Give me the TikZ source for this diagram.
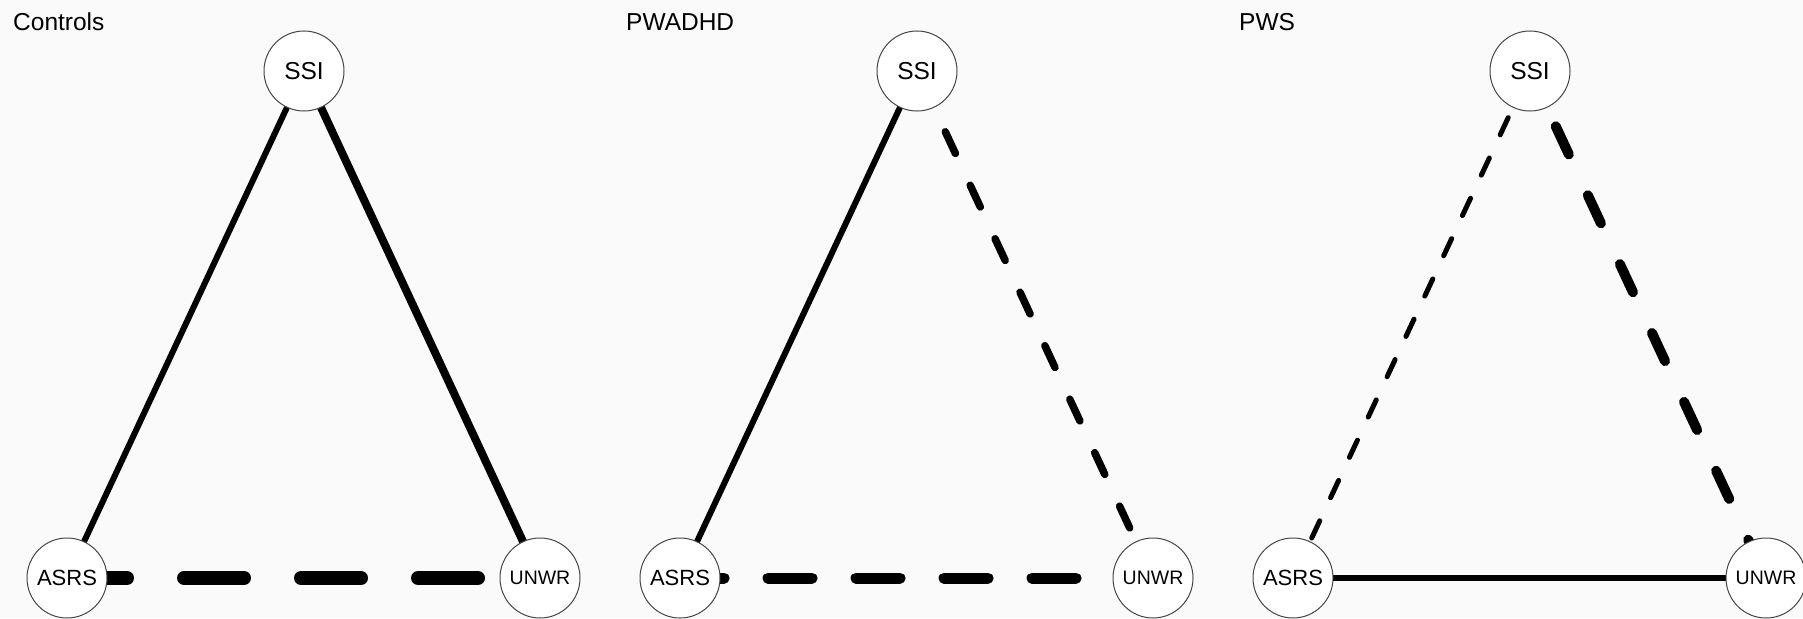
\documentclass[tikz,border=0pt]{standalone}
\usepackage{fontspec}
\setmainfont{Liberation Sans}
\pgfdeclarelayer{bgl}
\pgfdeclarelayer{edges}
\pgfsetlayers{bgl,edges,main}
\definecolor{bgc}{RGB}{250,250,250}
\definecolor{ringc}{RGB}{70,70,70}
\begin{document}
\begin{tikzpicture}[x=1pt,y=-1pt,
  vert/.style={circle, draw=ringc, line width=1pt, fill=white, minimum size=80pt, inner sep=0pt},
  ttl/.style={anchor=base west, inner sep=0pt, font=\fontsize{24.5}{30}\selectfont},
  fssi/.style={font=\fontsize{24.5}{29}\selectfont},
  fasrs/.style={font=\fontsize{22}{26}\selectfont},
  funwr/.style={font=\fontsize{19.5}{23}\selectfont},
  edge/.style={line cap=round, draw=black}]
\begin{pgfonlayer}{bgl}
\fill[bgc] (0,0) rectangle (1803,618);
\end{pgfonlayer}
\useasboundingbox (0,0) rectangle (1803,618);

% Controls
\node[ttl] (t1) at (13,30.5) {Controls};
\node[vert,fssi] (c-ssi) at (304,71) {SSI};
\node[vert,fasrs] (c-asrs) at (67,578) {ASRS};
\node[vert,funwr] (c-unwr) at (540,578) {UNWR};

% PWADHD
\node[ttl] (t2) at (626,30.5) {PWADHD};
\node[vert,fssi] (a-ssi) at (917,71) {SSI};
\node[vert,fasrs] (a-asrs) at (680,578) {ASRS};
\node[vert,funwr] (a-unwr) at (1153,578) {UNWR};

% PWS
\node[ttl] (t3) at (1239,30.5) {PWS};
\node[vert,fssi] (p-ssi) at (1530,71) {SSI};
\node[vert,fasrs] (p-asrs) at (1293,578) {ASRS};
\node[vert,funwr] (p-unwr) at (1766,578) {UNWR};

\begin{pgfonlayer}{edges}
% Controls
\draw[edge, line width=6pt] (c-ssi.center) -- (c-asrs.center);
\draw[edge, line width=8pt] (c-ssi.center) -- (c-unwr.center);
\draw[edge, line width=14pt, dash pattern=on 60pt off 57pt] (c-asrs.center) -- (c-unwr.center);
% PWADHD
\draw[edge, line width=6pt] (a-ssi.center) -- (a-asrs.center);
\draw[edge, line width=7.5pt, dash pattern=on 24pt off 35pt, dash phase=51pt] (a-ssi.center) -- (a-unwr.center);
\draw[edge, line width=11pt, dash pattern=on 44pt off 44pt] (a-asrs.center) -- (a-unwr.center);
% PWS
\draw[edge, line width=5pt, dash pattern=on 19pt off 25.5pt, dash phase=37.5pt] (p-ssi.center) -- (p-asrs.center);
\draw[edge, line width=10pt, dash pattern=on 31pt off 45pt, dash phase=15pt] (p-ssi.center) -- (p-unwr.center);
\draw[edge, line width=5.5pt] (p-asrs.center) -- (p-unwr.center);
\end{pgfonlayer}
\end{tikzpicture}
\end{document}
